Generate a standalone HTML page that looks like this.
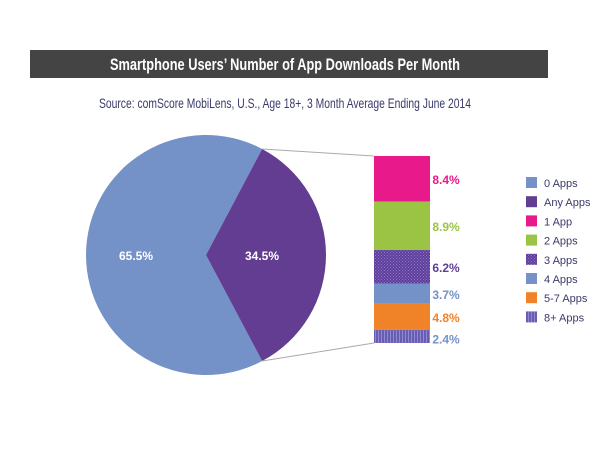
<!DOCTYPE html>
<html><head><meta charset="utf-8"><style>
html,body{margin:0;padding:0;background:#fff;}
svg{display:block;font-family:"Liberation Sans",sans-serif;}
</style></head><body>
<svg width="600" height="449" viewBox="0 0 600 449">
<defs>
<pattern id="p3" width="3" height="3" patternUnits="userSpaceOnUse"><rect width="3" height="3" fill="#5f3d9a"/><rect width="1" height="1" fill="#8a7cc8"/><rect x="1.5" y="1.5" width="1" height="1" fill="#8a7cc8"/></pattern>
<pattern id="p8" width="3" height="3" patternUnits="userSpaceOnUse"><rect width="3" height="3" fill="#6a5cb0"/><rect width="1" height="3" fill="#8e8ad2"/></pattern>
</defs>
<rect x="30" y="50" width="518" height="28" fill="#444444"/>
<text x="285" y="70" text-anchor="middle" fill="#fff" font-weight="bold" font-size="17" textLength="350" lengthAdjust="spacingAndGlyphs">Smartphone Users’ Number of App Downloads Per Month</text>
<text x="285" y="108" text-anchor="middle" fill="#3a3a6a" font-size="14" textLength="372" lengthAdjust="spacingAndGlyphs">Source: comScore MobiLens, U.S., Age 18+, 3 Month Average Ending June 2014</text>
<g id="pie"></g>
<g id="bar"></g>
<g id="legend"></g>
</svg>
<script>
const pieLabels=["0 Apps","Any Apps"];
const pieValues=[65.5,34.5];
const barLabels=["1 App","2 Apps","3 Apps","4 Apps","5-7 Apps","8+ Apps"];
const barValues=[8.4,8.9,6.2,3.7,4.8,2.4];
const legendLabels=["0 Apps","Any Apps","1 App","2 Apps","3 Apps","4 Apps","5-7 Apps","8+ Apps"];
const legendFills=["#7492c8","#633d91","#e8198b","#9bc444","url(#p3)","#7492c8","#f08228","url(#p8)"];
const barFills=["#e8198b","#9bc444","url(#p3)","#7492c8","#f08228","url(#p8)"];
const barText=["#e8198b","#9bc444","#5f3d9a","#7492c8","#f08228","#7492c8"];
const NS="http://www.w3.org/2000/svg";
function mk(t,a,p){const e=document.createElementNS(NS,t);for(const k in a)e.setAttribute(k,a[k]);p.appendChild(e);return e;}
const cx=206,cy=255,r=120;
const pie=document.getElementById('pie');
const total=pieValues[0]+pieValues[1];
const half=pieValues[1]/total*Math.PI; // any apps centered on 0 rad
function pt(a){return [cx+r*Math.cos(a),cy+r*Math.sin(a)];}
const [x1,y1]=pt(-half),[x2,y2]=pt(half);
let s0=mk('path',{d:`M${cx},${cy}L${x2},${y2}A${r},${r} 0 ${pieValues[0]/total>0.5?1:0} 1 ${x1},${y1}Z`,fill:"#7492c8"},pie);


let s1=mk('path',{d:`M${cx},${cy}L${x1},${y1}A${r},${r} 0 ${pieValues[1]/total>0.5?1:0} 1 ${x2},${y2}Z`,fill:"#633d91"},pie);


let t0=mk('text',{x:cx-70,y:cy+5,fill:"#fff","font-size":"12","font-weight":"bold","text-anchor":"middle"},pie);t0.textContent=pieValues[0].toFixed(1)+"%";


let t1=mk('text',{x:cx+56,y:cy+5,fill:"#fff","font-size":"12","font-weight":"bold","text-anchor":"middle"},pie);t1.textContent=pieValues[1].toFixed(1)+"%";


// bar
const bx=374,bw=56,btop=156,bbot=343;
const bsum=barValues.reduce((a,b)=>a+b,0);
const k=(bbot-btop)/bsum;
const bar=document.getElementById('bar');
let l1=mk('line',{x1:x1,y1:y1,x2:bx,y2:btop,stroke:"#aaa","stroke-width":"1"},bar);


let l2=mk('line',{x1:x2,y1:y2,x2:bx,y2:bbot,stroke:"#aaa","stroke-width":"1"},bar);


let y=btop;
barValues.forEach((v,i)=>{
 const h=v*k;
 const rc=mk('rect',{x:bx,y:y,width:bw,height:h,fill:barFills[i]},bar);
 
 
 let ty=y+h/2+5; if(i===barValues.length-1) ty=y+h/2+7;
 const tx=mk('text',{x:bx+34+bw/2+10,y:ty,fill:barText[i],"font-size":"12","font-weight":"bold","text-anchor":"middle"},bar);
 tx.textContent=v.toFixed(1)+"%";
 
 
 y+=h;
});
const lg=document.getElementById('legend');
legendLabels.forEach((L,i)=>{
 const g=mk('g',{},lg);
 
 
 mk('rect',{x:526,y:177+i*19.2,width:11,height:11,fill:legendFills[i]},g);
 const t=mk('text',{x:544,y:187+i*19.2,fill:"#3a3a6a","font-size":"11"},g);t.textContent=L;
});
</script>
</body></html>
